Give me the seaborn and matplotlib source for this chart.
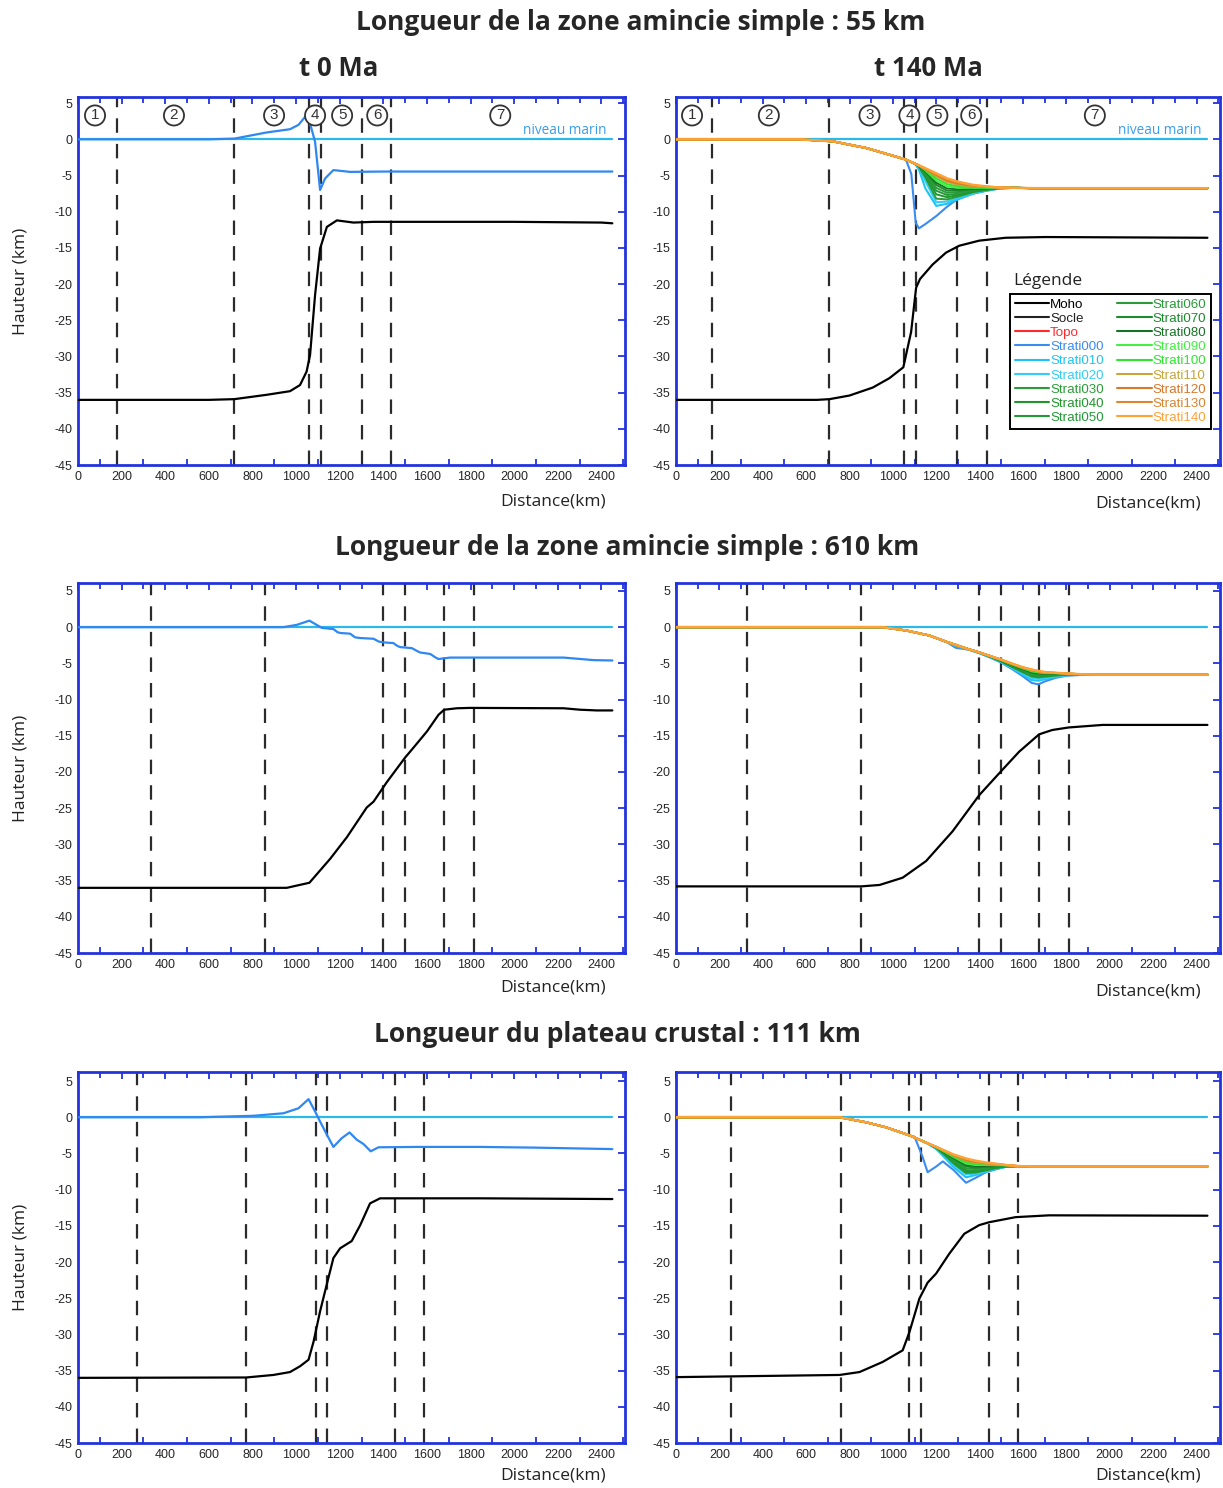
import numpy as np
import pandas as pd
import matplotlib
matplotlib.use("Agg")
import matplotlib.pyplot as plt
from matplotlib.lines import Line2D
import seaborn as sns

sns.set_theme(style="white")
plt.rcParams['font.family'] = ['Open Sans', 'DejaVu Sans']
plt.rcParams['axes.unicode_minus'] = False

# ---------------- data (km, km) ----------------
# 55 km, t 0 Ma
tl_x = [0, 600, 717, 865, 972, 1011, 1041, 1064, 1087, 1110, 1133, 1171, 1248, 1400, 2000, 2450]
tl_topo = [0, 0, 0.1, 0.95, 1.4, 2.0, 3.1, 2.2, -0.35, -7.0, -5.4, -4.25, -4.5, -4.45, -4.45, -4.45]
tl_moho_x = [0, 600, 717, 865, 972, 1018, 1048, 1064, 1087, 1110, 1141, 1187, 1263, 1355, 2000, 2400, 2450]
tl_moho = [-36, -36, -35.9, -35.3, -34.8, -33.95, -32.1, -29.8, -21.5, -15.1, -12.1, -11.2, -11.5, -11.4, -11.4, -11.5, -11.6]
tl_dash = [177, 714, 1058, 1112, 1300, 1436]
tl_zones = [78, 440, 899, 1087, 1211, 1372, 1936]

# 55 km, t 140 Ma
tr_x = [0, 570, 723, 877, 969, 1060, 1085, 1105, 1120, 1150, 1200, 1250, 1300, 1370, 1430, 1490, 1560, 1650, 2450]
tr_topo = [0, 0, -0.28, -1.2, -2.0, -2.8, -3.15, -3.4, -3.6, -4.0, -4.7, -5.4, -5.85, -6.3, -6.5, -6.65, -6.7, -6.75, -6.75]
tr_basin_x = [1060, 1085, 1105, 1120, 1150, 1200, 1250, 1300, 1370, 1430, 1490, 1560]
tr_strati = [
    [-2.8, -4.8, -11.5, -12.3, -11.7, -10.6, -9.3, -8.2, -7.5, -7.1, -6.8, -6.7],
    [-2.8, -3.15, -3.5, -4.2, -6.8, -9.2, -8.9, -8.3, -7.5, -7.1, -6.8, -6.7],
    [-2.8, -3.15, -3.45, -3.9, -5.8, -8.7, -8.6, -8.1, -7.4, -7.05, -6.75, -6.7],
    [-2.8, -3.15, -3.45, -3.8, -5.3, -8.2, -8.3, -7.9, -7.3, -7.0, -6.75, -6.7],
    [-2.8, -3.15, -3.4, -3.75, -5.0, -7.6, -8.0, -7.7, -7.2, -6.95, -6.72, -6.7],
    [-2.8, -3.15, -3.4, -3.7, -4.8, -7.1, -7.7, -7.5, -7.1, -6.9, -6.7, -6.7],
    [-2.8, -3.15, -3.4, -3.7, -4.6, -6.7, -7.4, -7.3, -7.0, -6.85, -6.7, -6.7],
    [-2.8, -3.15, -3.4, -3.65, -4.5, -6.3, -7.1, -7.1, -6.9, -6.8, -6.7, -6.7],
    [-2.8, -3.15, -3.4, -3.65, -4.4, -6.0, -6.8, -6.9, -6.8, -6.75, -6.7, -6.7],
    [-2.8, -3.15, -3.4, -3.6, -4.3, -5.7, -6.5, -6.7, -6.7, -6.7, -6.7, -6.7],
    [-2.8, -3.15, -3.4, -3.6, -4.2, -5.4, -6.2, -6.5, -6.6, -6.65, -6.7, -6.7],
    [-2.8, -3.15, -3.4, -3.6, -4.15, -5.1, -5.9, -6.3, -6.5, -6.6, -6.68, -6.7],
    [-2.8, -3.15, -3.4, -3.6, -4.1, -4.9, -5.7, -6.1, -6.4, -6.55, -6.66, -6.7],
    [-2.8, -3.15, -3.4, -3.6, -4.05, -4.8, -5.55, -6.0, -6.35, -6.52, -6.65, -6.7],
]
tr_moho_x = [0, 650, 708, 800, 907, 984, 1048, 1084, 1107, 1125, 1183, 1245, 1306, 1398, 1520, 1704, 2450]
tr_moho = [-36.0, -36.0, -35.9, -35.4, -34.3, -33.0, -31.5, -26.6, -20.5, -19.3, -17.3, -15.65, -14.7, -14.0, -13.6, -13.5, -13.6]
tr_dash = [166, 706, 1052, 1108, 1297, 1434]
tr_zones = [74, 428, 892, 1076, 1205, 1361, 1931]

# 610 km, t 0 Ma
ml_x = [0, 942, 1003, 1061, 1118, 1171, 1190, 1202, 1248, 1270, 1294, 1355, 1380, 1401, 1446, 1465, 1477,
        1531, 1555, 1569, 1615, 1640, 1653, 1706, 2226, 2364, 2450]
ml_topo = [0, 0, 0.32, 0.9, -0.1, -0.26, -0.7, -0.8, -0.9, -1.4, -1.5, -1.6, -2.0, -2.1, -2.2, -2.6, -2.75,
           -2.9, -3.3, -3.5, -3.7, -4.2, -4.4, -4.2, -4.2, -4.55, -4.6]
ml_moho_x = [0, 957, 1061, 1156, 1233, 1324, 1355, 1416, 1500, 1531, 1600, 1653, 1679, 1737, 1798, 2226, 2302, 2379, 2450]
ml_moho = [-36.0, -36.0, -35.3, -32.0, -29.0, -24.9, -24.1, -21.4, -18.0, -16.9, -14.4, -12.1, -11.4, -11.2, -11.15, -11.2, -11.4, -11.5, -11.5]
ml_dash = [335, 858, 1400, 1500, 1679, 1817]

# 610 km, t 140 Ma
mr_x = [0, 953, 1061, 1168, 1250, 1290, 1350, 1400, 1450, 1500, 1550, 1600, 1640, 1670, 1700, 1750, 1800, 1870, 1950, 2450]
mr_topo = [0, 0, -0.46, -1.15, -2.05, -2.45, -3.05, -3.5, -4.0, -4.5, -5.05, -5.55, -5.85, -6.05, -6.2, -6.3, -6.4, -6.5, -6.55, -6.55]
mr_basin_x = [1250, 1290, 1350, 1400, 1450, 1500, 1550, 1600, 1640, 1670, 1700, 1750, 1800, 1870, 1950]
mr_strati = [
    [-2.1, -2.85, -3.1, -3.6, -4.2, -4.9, -5.8, -6.8, -7.7, -7.9, -7.5, -7.0, -6.7, -6.6, -6.55],
    [-2.1, -2.6, -3.1, -3.6, -4.2, -4.85, -5.7, -6.6, -7.3, -7.4, -7.2, -6.9, -6.65, -6.55, -6.55],
    [-2.05, -2.5, -3.1, -3.55, -4.15, -4.8, -5.6, -6.4, -7.0, -7.15, -7.0, -6.8, -6.6, -6.55, -6.55],
    [-2.05, -2.45, -3.05, -3.55, -4.1, -4.75, -5.5, -6.25, -6.8, -6.95, -6.85, -6.7, -6.55, -6.5, -6.55],
    [-2.05, -2.45, -3.05, -3.5, -4.1, -4.7, -5.45, -6.15, -6.65, -6.8, -6.75, -6.6, -6.5, -6.5, -6.55],
    [-2.05, -2.45, -3.05, -3.5, -4.05, -4.65, -5.4, -6.05, -6.55, -6.7, -6.65, -6.55, -6.5, -6.5, -6.55],
    [-2.05, -2.45, -3.05, -3.5, -4.05, -4.6, -5.3, -5.95, -6.4, -6.55, -6.55, -6.5, -6.45, -6.5, -6.55],
    [-2.05, -2.45, -3.05, -3.5, -4.0, -4.6, -5.25, -5.85, -6.3, -6.45, -6.45, -6.45, -6.45, -6.5, -6.55],
    [-2.05, -2.45, -3.05, -3.5, -4.0, -4.55, -5.2, -5.8, -6.2, -6.35, -6.4, -6.4, -6.45, -6.5, -6.55],
    [-2.05, -2.45, -3.05, -3.5, -4.0, -4.55, -5.15, -5.7, -6.1, -6.25, -6.35, -6.35, -6.4, -6.5, -6.55],
    [-2.05, -2.45, -3.05, -3.5, -4.0, -4.5, -5.1, -5.65, -6.0, -6.2, -6.3, -6.35, -6.4, -6.5, -6.55],
    [-2.05, -2.45, -3.05, -3.5, -4.0, -4.5, -5.08, -5.6, -5.95, -6.12, -6.27, -6.33, -6.4, -6.5, -6.55],
    [-2.05, -2.45, -3.05, -3.5, -4.0, -4.5, -5.06, -5.58, -5.9, -6.1, -6.24, -6.32, -6.4, -6.5, -6.55],
    [-2.05, -2.45, -3.05, -3.5, -4.0, -4.5, -5.05, -5.56, -5.87, -6.07, -6.22, -6.31, -6.4, -6.5, -6.55],
]
mr_moho_x = [0, 854, 939, 1045, 1153, 1275, 1398, 1497, 1582, 1674, 1735, 1811, 1967, 2450]
mr_moho = [-35.8, -35.8, -35.6, -34.6, -32.3, -28.2, -23.2, -19.95, -17.2, -14.8, -14.2, -13.85, -13.5, -13.5]
mr_dash = [326, 854, 1398, 1498, 1674, 1811]

# plateau 111 km, t 0 Ma
bl_x = [0, 560, 804, 942, 1011, 1057, 1087, 1110, 1141, 1171, 1209, 1245, 1278, 1309, 1342, 1378, 1554, 1844, 2100, 2450]
bl_topo = [0, 0, 0.2, 0.55, 1.24, 2.5, 0.8, -0.6, -2.4, -4.1, -2.9, -2.1, -3.1, -3.7, -4.7, -4.15, -4.1, -4.1, -4.2, -4.4]
bl_moho_x = [0, 771, 896, 972, 1018, 1057, 1080, 1110, 1148, 1171, 1202, 1255, 1294, 1339, 1385, 1844, 2450]
bl_moho = [-36.0, -35.95, -35.6, -35.2, -34.4, -33.5, -31.0, -26.8, -22.2, -19.45, -18.1, -17.1, -14.9, -11.9, -11.2, -11.2, -11.3]
bl_dash = [271, 771, 1089, 1143, 1454, 1588]

# plateau 111 km, t 140 Ma
br_x = [0, 754, 877, 969, 1076, 1100, 1137, 1160, 1200, 1230, 1280, 1337, 1380, 1428, 1480, 1520, 1580, 1650, 1750, 2450]
br_topo = [0, 0, -0.7, -1.4, -2.5, -2.8, -3.3, -3.6, -4.1, -4.5, -5.15, -5.7, -6.0, -6.25, -6.45, -6.6, -6.75, -6.8, -6.8, -6.8]
br_basin_x = [1076, 1100, 1137, 1160, 1200, 1230, 1280, 1337, 1380, 1428, 1480, 1520, 1580, 1650, 1750]
br_strati = [
    [-2.5, -2.7, -5.5, -7.6, -6.8, -6.1, -7.3, -9.05, -8.4, -7.6, -7.15, -6.85, -6.75, -6.8, -6.8],
    [-2.5, -2.8, -3.3, -3.65, -4.4, -5.3, -6.9, -8.3, -8.0, -7.55, -7.1, -6.85, -6.75, -6.8, -6.8],
    [-2.5, -2.8, -3.3, -3.6, -4.3, -5.1, -6.6, -7.9, -7.8, -7.45, -7.05, -6.85, -6.75, -6.8, -6.8],
    [-2.5, -2.8, -3.3, -3.6, -4.25, -5.0, -6.4, -7.7, -7.65, -7.35, -7.0, -6.8, -6.75, -6.8, -6.8],
    [-2.5, -2.8, -3.3, -3.6, -4.2, -4.9, -6.2, -7.5, -7.5, -7.25, -6.95, -6.8, -6.75, -6.8, -6.8],
    [-2.5, -2.8, -3.3, -3.6, -4.2, -4.85, -6.0, -7.3, -7.35, -7.15, -6.9, -6.75, -6.75, -6.8, -6.8],
    [-2.5, -2.8, -3.3, -3.6, -4.2, -4.8, -5.9, -7.05, -7.15, -7.0, -6.85, -6.75, -6.75, -6.8, -6.8],
    [-2.5, -2.8, -3.3, -3.6, -4.15, -4.75, -5.75, -6.8, -6.95, -6.85, -6.8, -6.7, -6.75, -6.8, -6.8],
    [-2.5, -2.8, -3.3, -3.6, -4.15, -4.7, -5.6, -6.6, -6.75, -6.75, -6.7, -6.7, -6.75, -6.8, -6.8],
    [-2.5, -2.8, -3.3, -3.6, -4.15, -4.65, -5.5, -6.4, -6.6, -6.6, -6.65, -6.65, -6.75, -6.8, -6.8],
    [-2.5, -2.8, -3.3, -3.6, -4.1, -4.6, -5.4, -6.2, -6.45, -6.5, -6.55, -6.65, -6.75, -6.8, -6.8],
    [-2.5, -2.8, -3.3, -3.6, -4.1, -4.55, -5.3, -6.0, -6.3, -6.4, -6.5, -6.6, -6.75, -6.8, -6.8],
    [-2.5, -2.8, -3.3, -3.6, -4.1, -4.55, -5.25, -5.9, -6.15, -6.35, -6.5, -6.6, -6.75, -6.8, -6.8],
    [-2.5, -2.8, -3.3, -3.6, -4.1, -4.5, -5.2, -5.8, -6.1, -6.3, -6.45, -6.6, -6.75, -6.8, -6.8],
]
br_moho_x = [0, 754, 846, 953, 1045, 1076, 1122, 1160, 1199, 1260, 1329, 1398, 1444, 1566, 1720, 2450]
br_moho = [-35.9, -35.6, -35.2, -33.8, -32.2, -29.7, -25.05, -22.85, -21.6, -18.85, -16.1, -14.9, -14.5, -13.8, -13.55, -13.6]
br_dash = [253, 759, 1076, 1131, 1444, 1577]

strati_names = ['Strati000', 'Strati010', 'Strati020', 'Strati030', 'Strati040', 'Strati050',
                'Strati060', 'Strati070', 'Strati080', 'Strati090', 'Strati100', 'Strati110',
                'Strati120', 'Strati130', 'Strati140']
strati_colors = ['#3a8cf0', '#1ec3f5', '#34cdf8', '#2a9c36', '#1f962c', '#239a38',
                 '#2a9a3a', '#1d8a2e', '#177227', '#44ee44', '#30e430', '#c9a43a',
                 '#d9772a', '#d9862e', '#ffa236']
sea_color = '#2bb8ea'
blue0 = '#2f88f2'
frame_blue = '#2233dd'

# ---------------- figure ----------------
fig = plt.figure(figsize=(12.23, 14.88), dpi=100)
W, H = 1223, 1488


def make_ax(left, top, right, bottom, ytop, label_y):
    ax = fig.add_axes([left / W, 1 - bottom / H, (right - left) / W, (bottom - top) / H])
    ax.set_xlim(0, 2508)
    ax.set_ylim(-45, ytop)
    ax.set_xticks(np.arange(0, 2401, 200))
    ax.set_xticks(np.arange(0, 2501, 100), minor=True)
    ax.set_yticks(np.arange(-45, 6, 5))
    ax.tick_params(axis='both', which='both', direction='in', top=True, right=True,
                   color=frame_blue, width=1.3, labelsize=9, pad=4)
    ax.tick_params(which='major', length=5)
    ax.tick_params(which='minor', length=4)
    ax.tick_params(axis='x', which='minor', bottom=True, top=True)
    for lab in ax.get_xticklabels() + ax.get_yticklabels():
        lab.set_family('Liberation Sans')
    for s in ax.spines.values():
        s.set_color(frame_blue)
        s.set_linewidth(2)
    ax.set_xlabel('')
    ax.set_ylabel('')
    # "Distance(km)" sits under the right part of each panel
    fig.text((left + 0.965 * (right - left)) / W, 1 - label_y / H, 'Distance(km)', ha='right', va='center',
             fontsize=12.5, color='#222222')
    return ax


def line(ax, x, y, color, lw=1.5, z=3):
    sns.lineplot(x=x, y=y, ax=ax, color=color, lw=lw, estimator=None, sort=False, legend=False, zorder=z)


def dashes(ax, xs):
    for xv in xs:
        ax.axvline(xv, color='#2b2b2b', lw=1.6, ls=(0, (6.5, 5)), zorder=1)


def stitched(full_x, full_y, bx, by):
    xs = [v for v in full_x if v < bx[0]] + list(bx) + [v for v in full_x if v > bx[-1]]
    ys = [full_y[i] for i, v in enumerate(full_x) if v < bx[0]] + list(by) + \
         [full_y[i] for i, v in enumerate(full_x) if v > bx[-1]]
    return xs, ys


def t0_panel(ax, x, topo, mx, moho):
    line(ax, [0, 2450], [0, 0], sea_color, 1.6, 2)
    line(ax, mx, moho, 'black', 1.6)
    line(ax, x, topo, blue0, 1.6)


def t140_panel(ax, x, topo, bx, strati, mx, moho):
    line(ax, [0, 2450], [0, 0], sea_color, 1.6, 2)
    line(ax, mx, moho, 'black', 1.6)
    for k, layer in enumerate(strati):
        xs, ys = stitched(x, topo, bx, layer)
        line(ax, xs, ys, strati_colors[k], 1.4 if k > 2 else 1.5, 3 + k * 0.01)
    line(ax, x, topo, strati_colors[-1], 1.8, 3.5)


def zones(ax, xs):
    for i, xv in enumerate(xs):
        ax.text(xv, 3.3, str(i + 1), ha='center', va='center', fontsize=11, color='#333333', zorder=6,
                family='Liberation Sans',
                bbox=dict(boxstyle='circle,pad=0.2', fc='white', ec='#333333', lw=1.3))


L0, L1, R0, R1 = 78, 625, 676, 1220
ax1 = make_ax(L0, 97, L1, 465, 5.85, 502)
ax2 = make_ax(R0, 97, R1, 465, 5.85, 503)
ax3 = make_ax(L0, 583, L1, 953, 6.1, 988)
ax4 = make_ax(R0, 583, R1, 953, 6.1, 991)
ax5 = make_ax(L0, 1072, L1, 1443, 6.25, 1475)
ax6 = make_ax(R0, 1072, R1, 1443, 6.25, 1476)

dashes(ax1, tl_dash)
dashes(ax2, tr_dash)
dashes(ax3, ml_dash)
dashes(ax4, mr_dash)
dashes(ax5, bl_dash)
dashes(ax6, br_dash)

t0_panel(ax1, tl_x, tl_topo, tl_moho_x, tl_moho)
t140_panel(ax2, tr_x, tr_topo, tr_basin_x, tr_strati, tr_moho_x, tr_moho)
t0_panel(ax3, ml_x, ml_topo, ml_moho_x, ml_moho)
t140_panel(ax4, mr_x, mr_topo, mr_basin_x, mr_strati, mr_moho_x, mr_moho)
t0_panel(ax5, bl_x, bl_topo, bl_moho_x, bl_moho)
t140_panel(ax6, br_x, br_topo, br_basin_x, br_strati, br_moho_x, br_moho)

zones(ax1, tl_zones)
zones(ax2, tr_zones)
for ax in (ax1, ax2):
    ax.text(2425, 0.2, 'niveau marin', ha='right', va='bottom', fontsize=9.8, color='#3a9cf0', zorder=6)

for ax in (ax1, ax3, ax5):
    ax.text(-0.105, 0.5, 'Hauteur (km)', transform=ax.transAxes, rotation=90, ha='center', va='center',
            fontsize=12.5, color='#222222')

# legend
handles = []
labels = ['Moho', 'Socle', 'Topo'] + strati_names
colors = ['black', '#222222', '#ff2a2a'] + strati_colors
for c in colors:
    handles.append(Line2D([], [], color=c, lw=1.5))
leg = ax2.legend(handles, labels, ncol=2, loc='upper left',
                 bbox_to_anchor=(0.614, 0.466), borderaxespad=0, fontsize=9.6, handlelength=2.6,
                 handletextpad=0.05, labelspacing=0.14, columnspacing=1.0, borderpad=0.35,
                 frameon=True, fancybox=False, framealpha=1)
leg.get_frame().set_edgecolor('black')
leg.get_frame().set_linewidth(1.4)
for t, c in zip(leg.get_texts(), colors):
    t.set_color(c)
    t.set_family('Liberation Sans')
leg.set_zorder(10)
ax2.text(0.62, 0.478, 'Légende', transform=ax2.transAxes, ha='left', va='bottom', fontsize=12.5, color='#222222')

# titles
fig.text(641 / W, 1 - 22 / H, 'Longueur de la zone amincie simple : 55 km', ha='center', va='center',
         fontsize=19, fontweight='bold')
fig.text(339 / W, 1 - 68 / H, 't 0 Ma', ha='center', va='center', fontsize=18.5, fontweight='bold')
fig.text(928 / W, 1 - 68 / H, 't 140 Ma', ha='center', va='center', fontsize=18.5, fontweight='bold')
fig.text(627 / W, 1 - 547 / H, 'Longueur de la zone amincie simple : 610 km', ha='center', va='center',
         fontsize=19, fontweight='bold')
fig.text(617 / W, 1 - 1035 / H, 'Longueur du plateau crustal : 111 km', ha='center', va='center',
         fontsize=19, fontweight='bold')

fig.savefig('out.png', dpi=100, facecolor='white')
